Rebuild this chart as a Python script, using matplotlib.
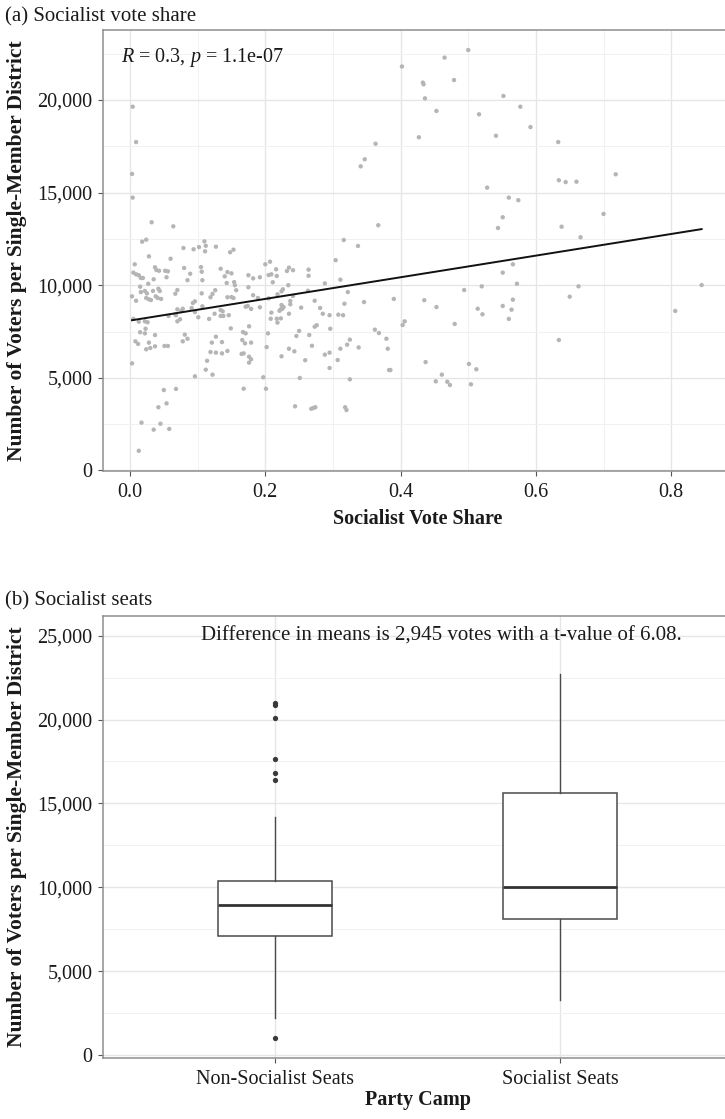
import numpy as np
import matplotlib
matplotlib.use("Agg")
import matplotlib.pyplot as plt
from matplotlib.ticker import FuncFormatter, MultipleLocator

plt.rcParams['font.family'] = ['Liberation Serif', 'DejaVu Serif']
plt.rcParams['mathtext.fontset'] = 'custom'
plt.rcParams['mathtext.rm'] = 'Liberation Serif'
plt.rcParams['mathtext.it'] = 'Liberation Serif:italic'

# ---------------- Panel (a) data: socialist vote share vs voters per district
socialist_vote_share = [
    0.004, 0.009, 0.003, 0.004, 0.032, 0.064, 0.018, 0.024, 0.079, 0.094,
    0.102, 0.110, 0.112, 0.111, 0.127, 0.148, 0.153, 0.028, 0.060, 0.007,
    0.037, 0.039, 0.043, 0.052, 0.056, 0.080, 0.105, 0.106, 0.134, 0.144,
    0.150, 0.140, 0.005, 0.009, 0.013, 0.016, 0.019, 0.035, 0.027, 0.054,
    0.085, 0.089, 0.107, 0.143, 0.154, 0.015, 0.003, 0.009, 0.016, 0.022,
    0.025, 0.024, 0.028, 0.031, 0.034, 0.042, 0.044, 0.038, 0.041, 0.046,
    0.067, 0.070, 0.106, 0.119, 0.122, 0.126, 0.144, 0.150, 0.153, 0.157,
    0.155, 0.070, 0.076, 0.078, 0.093, 0.096, 0.091, 0.096, 0.101, 0.107,
    0.070, 0.074, 0.067, 0.057, 0.068, 0.117, 0.125, 0.134, 0.137, 0.134,
    0.138, 0.146, 0.005, 0.013, 0.026, 0.022, 0.149, 0.023, 0.015, 0.022,
    0.037, 0.081, 0.085, 0.078, 0.127, 0.121, 0.136, 0.008, 0.012, 0.028,
    0.037, 0.030, 0.024, 0.051, 0.056, 0.119, 0.127, 0.136, 0.144, 0.003,
    0.114, 0.112, 0.122, 0.096, 0.050, 0.068, 0.054, 0.042, 0.017, 0.045,
    0.035, 0.058, 0.013,
    0.316, 0.337, 0.200, 0.207, 0.304, 0.175, 0.182, 0.192, 0.205, 0.209,
    0.216, 0.217, 0.211, 0.232, 0.235, 0.241, 0.264, 0.264, 0.311, 0.288,
    0.175, 0.182, 0.234, 0.226, 0.224, 0.218, 0.263, 0.322, 0.189, 0.192,
    0.205, 0.171, 0.174, 0.179, 0.237, 0.237, 0.224, 0.227, 0.223, 0.221,
    0.225, 0.241, 0.253, 0.273, 0.281, 0.285, 0.295, 0.308, 0.315, 0.317,
    0.209, 0.208, 0.217, 0.223, 0.218, 0.235, 0.176, 0.167, 0.171, 0.204,
    0.276, 0.273, 0.296, 0.250, 0.246, 0.265, 0.166, 0.170, 0.179, 0.202,
    0.235, 0.243, 0.269, 0.325, 0.321, 0.311, 0.338, 0.288, 0.295, 0.165,
    0.168, 0.176, 0.179, 0.176, 0.224, 0.259, 0.307, 0.295, 0.197, 0.251,
    0.325, 0.168, 0.201, 0.244, 0.268, 0.271, 0.274, 0.318, 0.320,
    0.346, 0.362, 0.368, 0.379, 0.381, 0.383, 0.385, 0.390, 0.403, 0.406,
    0.363, 0.347, 0.341, 0.367, 0.427, 0.402,
    0.465, 0.500, 0.433, 0.434, 0.479, 0.436, 0.453, 0.552, 0.577, 0.516,
    0.592, 0.541, 0.633, 0.718, 0.634, 0.644, 0.660, 0.528, 0.560, 0.574,
    0.700, 0.551, 0.544, 0.638, 0.666, 0.566, 0.551, 0.572, 0.520, 0.494,
    0.663, 0.845, 0.435, 0.453, 0.514, 0.521, 0.551, 0.566, 0.564, 0.560,
    0.650, 0.806, 0.480, 0.634, 0.437, 0.461, 0.452, 0.469, 0.473, 0.501,
    0.512, 0.504,
]
voters_per_district = [
    19640, 17730, 16010, 14730, 13400, 13180, 12350, 12460, 12010, 11940,
    12060, 12370, 12130, 11830, 12080, 11780, 11920, 11560, 11430, 11130,
    10970, 10820, 10780, 10780, 10750, 10930, 10980, 10730, 10890, 10710,
    10640, 10480, 10680, 10590, 10540, 10390, 10390, 10320, 10080, 10430,
    10270, 10620, 10270, 10120, 10170, 9920, 9400, 9160, 9630, 9690,
    9560, 9310, 9240, 9200, 9690, 9810, 9690, 9400, 9310, 9260,
    9540, 9740, 9560, 9350, 9530, 9730, 9350, 9360, 9310, 9730,
    10000, 8700, 8610, 8730, 9040, 9130, 8770, 8550, 8270, 8860,
    8050, 8160, 8430, 8340, 8380, 8180, 8460, 8660, 8590, 8340,
    8340, 8380, 8180, 8030, 8000, 8050, 7670, 7650, 7460, 7400,
    7310, 7330, 7110, 6970, 7220, 6900, 6930, 6970, 6830, 6900,
    6700, 6610, 6540, 6720, 6720, 6390, 6360, 6320, 6450, 5780,
    5920, 5440, 5170, 5080, 4340, 4400, 3620, 3410, 2580, 2520,
    2200, 2240, 1060,
    12440, 12120, 11130, 11270, 11350, 10540, 10370, 10430, 10550, 10590,
    10860, 10500, 10160, 10770, 10950, 10810, 10840, 10510, 10300, 10100,
    9890, 9460, 10000, 9780, 9670, 9510, 9700, 9630, 9310, 8810,
    9290, 8840, 8880, 8720, 9150, 8970, 8930, 8820, 8700, 8620,
    8720, 9420, 8790, 9160, 8770, 8460, 8380, 8410, 8380, 9000,
    8520, 8190, 8190, 8210, 7980, 8460, 7780, 7470, 7400, 7400,
    7840, 7760, 7650, 7530, 7260, 7310, 7040, 6860, 6900, 6660,
    6570, 6430, 6730, 7060, 6790, 6570, 6640, 6250, 6360, 6290,
    6320, 6140, 6000, 5820, 6160, 5950, 5960, 5530, 5030, 4990,
    4920, 4410, 4410, 3460, 3330, 3370, 3410, 3410, 3260,
    9090, 7600, 7420, 7110, 6570, 5420, 5420, 9260, 7850, 8050,
    17640, 16800, 16420, 13240, 17990, 21810,
    22290, 22700, 20940, 20850, 21080, 20090, 19410, 20220, 19640, 19230,
    18540, 18070, 17730, 15990, 15670, 15570, 15590, 15270, 14730, 14590,
    13850, 13670, 13090, 13160, 12590, 11130, 10680, 10080, 9940, 9740,
    9940, 10010, 9190, 8820, 8730, 8430, 8880, 9220, 8680, 8180,
    9380, 8610, 7910, 7040, 5850, 5170, 4810, 4790, 4610, 5750,
    5460, 4650,
]
# fitted regression line, read at its two ends
fit_x = [0.003, 0.845]
fit_y = [8110, 13030]
fit_label = r"$R$ = 0.3, $p$ = 1.1e-07"

# ---------------- Panel (b) data: box plot by party camp
camp_labels = ["Non-Socialist Seats", "Socialist Seats"]
whisker_low = [2190, 3280]
box_q1 = [7100, 8110]
box_median = [8940, 10040]
box_q3 = [10370, 15600]
whisker_high = [14210, 22710]
outliers = [[20960, 20860, 20090, 17650, 16800, 16400, 1030], []]
diff_label = "Difference in means is 2,945 votes with a t-value of 6.08."

# ---------------- styling helpers
W, H = 725, 1119
fig = plt.figure(figsize=(W / 100, H / 100), dpi=100)
fig.patch.set_facecolor('white')

SPINE = '#8e8e8e'
GRID_MAJ = '#e6e6e6'
GRID_MIN = '#f1f1f1'
TXT = '#1a1a1a'
FS = 14.5
comma_fmt = FuncFormatter(lambda v, p: f"{int(round(v)):,}")


def px_axes(left, top, right, bottom):
    return fig.add_axes([left / W, 1 - bottom / H, (right - left) / W, (bottom - top) / H])


def style(ax):
    for s in ax.spines.values():
        s.set_color(SPINE)
        s.set_linewidth(1.1)
    ax.tick_params(axis='both', which='major', direction='out', length=3.5, width=0.8,
                   color='#555555', labelsize=FS, labelcolor=TXT)
    ax.tick_params(axis='x', which='major', pad=5.0)
    ax.tick_params(axis='y', which='major', pad=4.2)
    ax.tick_params(axis='both', which='minor', length=0)
    ax.grid(True, which='major', color=GRID_MAJ, lw=1.0, zorder=0)
    ax.grid(True, which='minor', color=GRID_MIN, lw=0.7, zorder=0)
    ax.set_axisbelow(True)


def place_labels(ax, ax_left, ax_top, ax_right, ax_bottom, xlab_y, ylab_x):
    # put axis-label centres at given pixel positions
    ax.xaxis.set_label_coords(0.5, (ax_bottom - xlab_y) / (ax_bottom - ax_top))
    ax.xaxis.label.set_verticalalignment('center')
    ax.yaxis.set_label_coords((ylab_x - ax_left) / (ax_right - ax_left), 0.5)
    ax.yaxis.label.set_verticalalignment('center')


# ---------------- Panel (a)
A = (103, 30, 732, 471)
ax1 = px_axes(*A)
style(ax1)
ax1.scatter(socialist_vote_share, voters_per_district, s=10, color='#b5b5b5',
            edgecolors='none', zorder=2)
ax1.plot(fit_x, fit_y, color='#111111', lw=1.4, zorder=3)
ax1.set_xlim(-0.0399, 0.8899)
ax1.set_ylim(-32, 23782)
ax1.xaxis.set_major_locator(MultipleLocator(0.2))
ax1.xaxis.set_minor_locator(MultipleLocator(0.1))
ax1.yaxis.set_major_locator(MultipleLocator(5000))
ax1.yaxis.set_minor_locator(MultipleLocator(2500))
ax1.xaxis.set_major_formatter(FuncFormatter(lambda v, p: f"{v:.1f}"))
ax1.yaxis.set_major_formatter(comma_fmt)
ax1.text(0.028, 0.963, fit_label, transform=ax1.transAxes, fontsize=FS, color=TXT,
         ha='left', va='top')
ax1.set_xlabel("Socialist Vote Share", fontsize=FS, fontweight='bold', color=TXT)
ax1.set_ylabel("Number of Voters per Single-Member District", fontsize=15.5,
               fontweight='bold', color=TXT)
place_labels(ax1, *A, xlab_y=519, ylab_x=17)
fig.text(5 / W, 1 - 21 / H, "(a) Socialist vote share", fontsize=15, color=TXT,
         ha='left', va='baseline')

# ---------------- Panel (b)
B = (103.3, 616, 731.7, 1057.7)
ax2 = px_axes(*B)
style(ax2)
stats = []
for i in range(len(camp_labels)):
    stats.append(dict(label=camp_labels[i], whislo=whisker_low[i], q1=box_q1[i],
                      med=box_median[i], q3=box_q3[i], whishi=whisker_high[i],
                      fliers=outliers[i]))
ax2.bxp(stats, positions=[1, 2], widths=0.4, showfliers=True, patch_artist=True,
        boxprops=dict(facecolor='white', edgecolor='#4a4a4a', linewidth=1.1),
        medianprops=dict(color='#333333', linewidth=2.0),
        whiskerprops=dict(color='#4a4a4a', linewidth=1.0),
        capprops=dict(linewidth=0),
        flierprops=dict(marker='o', markersize=3.8, markerfacecolor='#3a3a3a',
                        markeredgecolor='none'),
        zorder=3)
ax2.set_xlim(0.4, 2.6)
ax2.set_ylim(-161, 26173)
ax2.yaxis.set_major_locator(MultipleLocator(5000))
ax2.yaxis.set_minor_locator(MultipleLocator(2500))
ax2.yaxis.set_major_formatter(comma_fmt)
ax2.xaxis.grid(True, which='major', color=GRID_MAJ, lw=1.0)
ax2.set_xticks([1, 2])
ax2.set_xticklabels(camp_labels)
ax2.text(1.584, 25000, diff_label, fontsize=15, color=TXT, ha='center', va='center')
ax2.set_xlabel("Party Camp", fontsize=FS, fontweight='bold', color=TXT)
ax2.set_ylabel("Number of Voters per Single-Member District", fontsize=15.5,
               fontweight='bold', color=TXT)
place_labels(ax2, *B, xlab_y=1100, ylab_x=17)
fig.text(5 / W, 1 - 605 / H, "(b) Socialist seats", fontsize=15, color=TXT,
         ha='left', va='baseline')

fig.savefig("out.png", dpi=100, facecolor='white')
